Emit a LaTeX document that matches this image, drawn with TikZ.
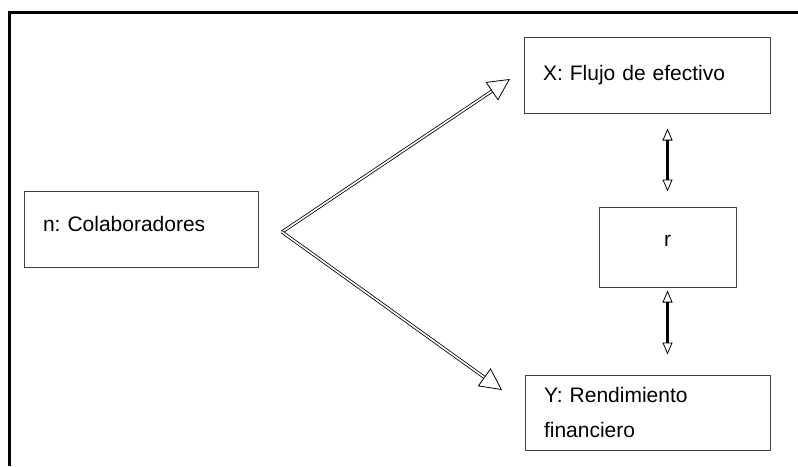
\documentclass[tikz,border=0pt]{standalone}
\usepackage{fontspec}
\setmainfont{Liberation Sans}
\usetikzlibrary{arrows.meta}
\begin{document}
\begin{tikzpicture}[x=1pt,y=-1pt,
  every node/.style={font=\fontsize{21}{35}\selectfont\frenchspacing},
  box/.style={draw=black!75,line width=1pt,rectangle,inner ysep=0pt,inner xsep=19pt,align=left},
  bigarrow/.style={draw=black,line width=0.8pt,double=white,double distance=1.6pt,
    -{Triangle[open,length=22pt,width=22pt,line width=0.8pt]}},
  smallarrow/.style={draw=black,line width=2.4pt,
    {Triangle[open,length=12pt,width=10pt,line width=0.8pt]}-{Triangle[open,length=12pt,width=10pt,line width=0.8pt]}}
]
\useasboundingbox (0,0) rectangle (798,466);
% frame (partially visible)
\draw[line width=3pt,black] (9.5,466) -- (9.5,12.5) -- (798,12.5);

\node[box,minimum width=234pt,minimum height=76pt,text width=196pt,text depth=10pt] (n) at (141,229) {n: Colaboradores};
\node[box,minimum width=246pt,minimum height=76pt,text width=208pt] (X) at (647,75) {X: Flujo de efectivo};
\node[box,minimum width=137pt,minimum height=80pt,align=center,inner xsep=0pt,text depth=11.5pt] (r) at (667.5,247) {r};
\node[box,minimum width=245pt,minimum height=75pt,text width=207pt] (Y) at (647.5,412.5) {Y: Rendimiento\\financiero};

\coordinate (apex) at (282,232);
\coordinate (tipX) at (510,79);
\coordinate (tipY) at (502,390);

\draw[bigarrow] (apex) -- (tipX);
\draw[bigarrow] (apex) -- (tipY);

\draw[smallarrow,shorten <=15pt,shorten >=15pt] (X.south -| r.north) -- (r.north);
\draw[smallarrow,shorten <=3pt,shorten >=20pt] (r.south) -- (Y.north -| r.south);
\end{tikzpicture}
\end{document}
